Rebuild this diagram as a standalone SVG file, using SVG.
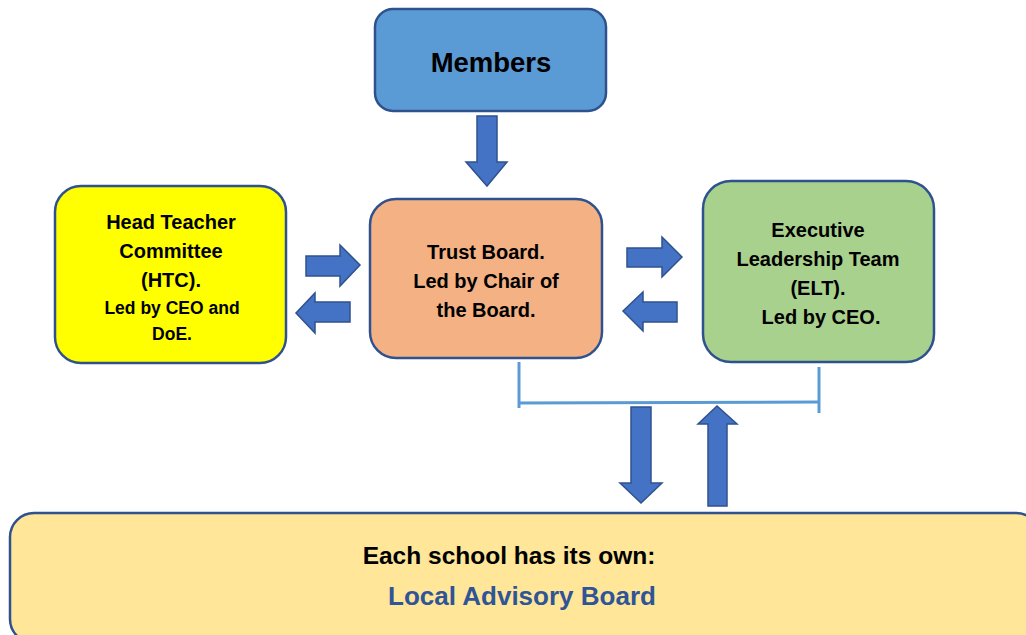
<svg xmlns="http://www.w3.org/2000/svg" width="1026" height="635" viewBox="0 0 1026 635">
<style>
.box{stroke:#2f528f;stroke-width:2.5}
.arr{fill:#4472c4;stroke:#2f528f;stroke-width:1.5}
.t{font-family:"Liberation Sans",Arial,sans-serif;font-weight:bold;fill:#000;text-anchor:middle}
.br{fill:none;stroke:#5b9bd5;stroke-width:3}
</style>
<rect width="1026" height="635" fill="#fff"/>
<g id="members">
<rect class="box" x="375" y="9" width="231" height="102" rx="18" fill="#5b9bd5"/>
<text class="t" x="491" y="72" font-size="27.5">Members</text>
</g>
<g id="htc">
<rect class="box" x="55" y="186" width="231" height="177" rx="26" fill="#ffff00"/>
<text class="t" font-size="20"><tspan x="171" y="229">Head Teacher</tspan><tspan x="171" y="258">Committee</tspan><tspan x="171" y="287">(HTC).</tspan></text>
<text class="t" font-size="17.5"><tspan x="172" y="314">Led by CEO and</tspan><tspan x="172" y="340">DoE.</tspan></text>
</g>
<g id="trust">
<rect class="box" x="370" y="199" width="232" height="159" rx="26" fill="#f4b183"/>
<text class="t" font-size="20"><tspan x="486" y="259">Trust Board.</tspan><tspan x="486" y="288">Led by Chair of</tspan><tspan x="486" y="317">the Board.</tspan></text>
</g>
<g id="elt">
<rect class="box" x="703" y="181" width="231" height="181" rx="28" fill="#a9d18e"/>
<text class="t" font-size="20"><tspan x="818" y="237">Executive</tspan><tspan x="818" y="266">Leadership Team</tspan><tspan x="818" y="295">(ELT).</tspan><tspan x="821" y="324">Led by CEO.</tspan></text>
</g>
<g id="lab">
<rect class="box" x="10" y="513" width="1030" height="130" rx="24" fill="#ffe699"/>
<text class="t" x="509" y="564" font-size="24.5">Each school has its own:</text>
<text class="t" x="522" y="605" font-size="26" style="fill:#2f5597">Local Advisory Board</text>
</g>
<g id="connectors">
<polygon class="arr" points="477,116 497,116 497,162 507,162 487,186 466,162 477,162"/>
<polygon class="arr" points="306,256 340,256 340,245 360,265 340,286 340,276 306,276"/>
<polygon class="arr" points="350,302 315,302 315,293 296,313 315,333 315,322 350,322"/>
<polygon class="arr" points="627,248 662,248 662,237 682,257 662,277 662,267 627,267"/>
<polygon class="arr" points="677,302 643,302 643,292 623,311 643,331 643,322 677,322"/>
<polyline class="br" points="519,362 519,408"/>
<polyline class="br" points="519,403 820,402"/>
<polyline class="br" points="819,367 819,413"/>
<polygon class="arr" points="631,407 651,407 651,483 662,483 641,503 620,483 631,483"/>
<polygon class="arr" points="708,506 727,506 727,424 737,424 717,406 698,424 708,424"/>
</g>
</svg>
